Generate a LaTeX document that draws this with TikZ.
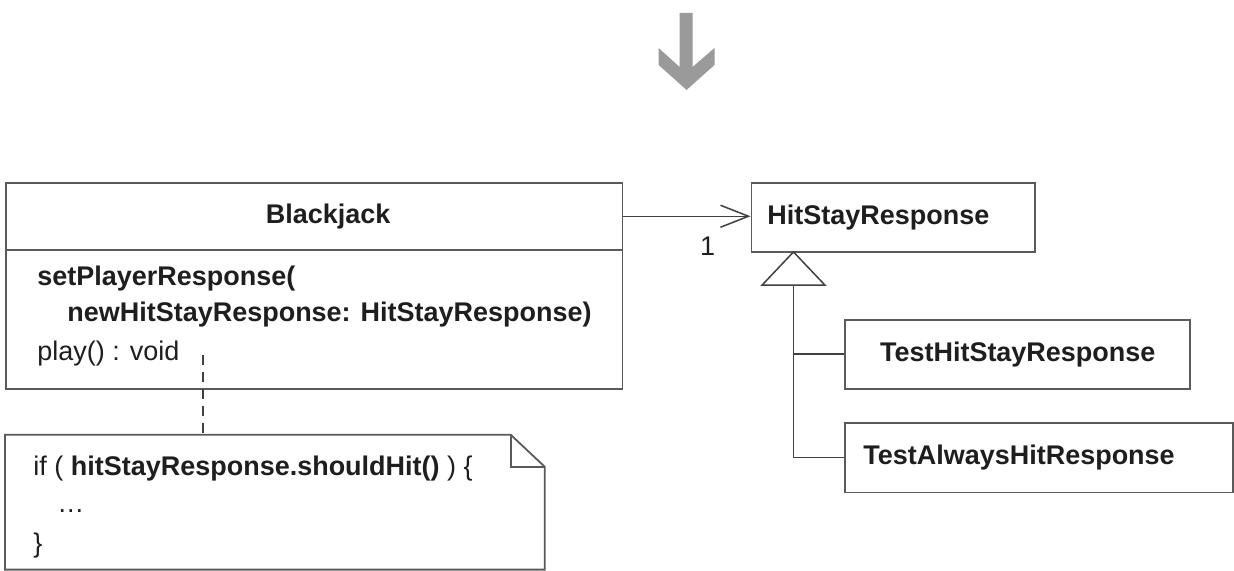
\documentclass[tikz,border=0pt]{standalone}
\usepackage{fontspec}
\setmainfont{Liberation Sans}
\usetikzlibrary{positioning, arrows.meta}

\definecolor{boxline}{HTML}{5A5A5A}
\definecolor{textdark}{HTML}{1E1E1E}
\definecolor{bigarrow}{HTML}{9A9A9A}

\begin{document}
\begin{tikzpicture}[x=0.5pt, y=-0.5pt,
            every node/.style={font=\fontsize{13.5pt}{16pt}\selectfont, text=textdark},
            classbox/.style={rectangle, draw=boxline, line width=0.9pt, fill=white, inner sep=0pt, anchor=north west},
            optext/.style={anchor=west, inner sep=0pt},
            link/.style={draw=black!75, line width=0.75pt},
            assoc/.style={link, -{Straight Barb[length=14pt, width=11pt]}},
            gen/.style={link, -{Triangle[open, fill=white, length=17.5pt, width=33pt]}},
            noteline/.style={link, dash pattern=on 5pt off 3.5pt}]

        % big grey arrow on top
        \fill[bigarrow] (680,13) -- (693,13) -- (693,67) -- (715,48) -- (715,65) -- (687,90)
            -- (659,65) -- (659,48) -- (680,67) -- cycle;

        % Blackjack class
        \node[classbox, minimum width=308.5pt, minimum height=33.5pt] (bjname) at (5,182) {\hspace*{14pt}\textbf{Blackjack}};
        \node[classbox, minimum width=308.5pt, minimum height=69.5pt] (bjops) at (5,249) {};
        \node[optext] (op1) at (37,279) {\textbf{setPlayerResponse(}};
        \node[optext] (op2) at (67,315) {\textbf{newHitStayResponse: HitStayResponse)}};
        \node[optext] (op3) at (37,354) {play() : void};

        % note
        \draw[boxline, line width=0.9pt, fill=white] (5,570) -- (5,435) -- (511,435) -- (545,467) -- (545,570) -- cycle;
        \draw[boxline, line width=0.9pt] (511,435) -- (511,467) -- (545,467);
        \node[optext] (code1) at (33,469) {if ( \textbf{hitStayResponse.shouldHit()} ) \{};
        \node[optext] (code2) at (57,511) {\ldots};
        \node[optext] (code3) at (33,546) {\}};
        \coordinate (playref) at (203,355);
        \coordinate (notetop) at (203,435);
        \draw[noteline] (playref) -- (notetop);

        % HitStayResponse and its subclasses
        \node[classbox, minimum width=142pt, minimum height=34.5pt, inner xsep=8pt, text width=126pt, align=left] (hsr) at (751,182) {\textbf{HitStayResponse}};
        \node[classbox, minimum width=172.5pt, minimum height=34.5pt] (thsr) at (845,319) {\textbf{TestHitStayResponse}};
        \node[classbox, minimum width=194pt, minimum height=35pt, inner xsep=9pt, text width=176pt, align=left] (tahr) at (845,422) {\textbf{TestAlwaysHitResponse}};

        \draw[assoc] (bjname.east) -- (bjname.east -| hsr.west);
        \node[inner sep=0pt] (mult1) at (708,246) {1};

        \coordinate (genapex) at (794,251);
        \draw[link] (thsr.west) -- (thsr.west -| genapex);
        \draw[gen] (tahr.west) -| (genapex);

        \useasboundingbox (0,0) rectangle (1234,571);
    \end{tikzpicture}
\end{document}
